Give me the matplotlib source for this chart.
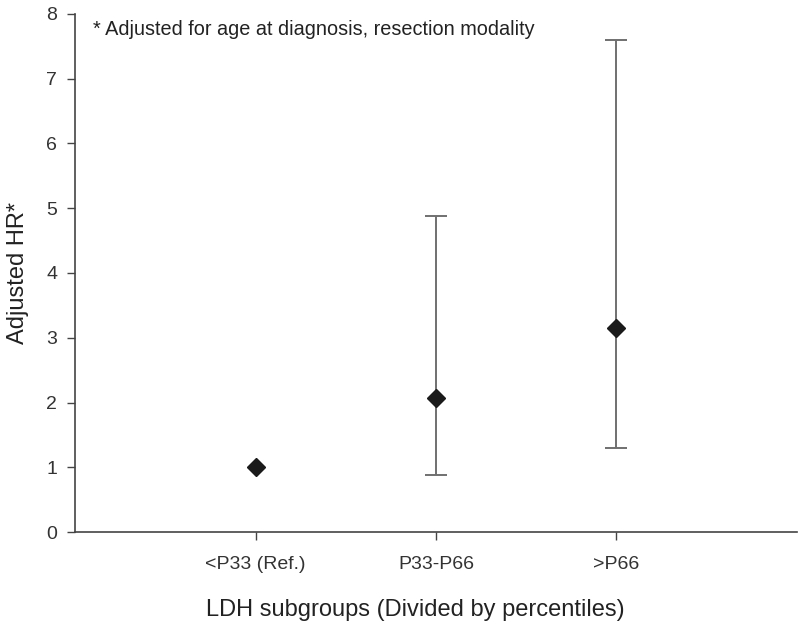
import matplotlib
matplotlib.use("Agg")
import matplotlib.pyplot as plt
import numpy as np

plt.rcParams["font.family"] = ["Liberation Sans", "DejaVu Sans"]

categories = ["<P33 (Ref.)", "P33-P66", ">P66"]
hr = [1.0, 2.07, 3.15]
ci_low = [1.0, 0.88, 1.30]
ci_high = [1.0, 4.88, 7.60]
yticks = [0, 1, 2, 3, 4, 5, 6, 7, 8]

fig = plt.figure(figsize=(8.0, 6.26), dpi=100)
ax = fig.add_axes([0.094, 0.150, 0.902, 0.828])

x = np.arange(1, len(categories) + 1)
hr_a = np.array(hr)
lo = hr_a - np.array(ci_low)
hi = np.array(ci_high) - hr_a
for xi, h, l, u in zip(x, hr_a, lo, hi):
    if l > 0 or u > 0:
        ax.errorbar([xi], [h], yerr=[[l], [u]], fmt="none", ecolor="#707070",
                    elinewidth=1.4, capsize=8, capthick=1.4, zorder=2)
ax.plot(x, hr_a, linestyle="none", marker="D", markersize=9, color="#1a1a1a", zorder=3)

ax.set_xlim(0, 4)
ax.set_ylim(0, 8)
ax.set_xticks(x)
ax.set_xticklabels(categories)
ax.set_yticks(yticks)
for s in ["top", "right"]:
    ax.spines[s].set_visible(False)
for s in ["left", "bottom"]:
    ax.spines[s].set_color("#444444")
    ax.spines[s].set_linewidth(1.2)
ax.tick_params(axis="both", direction="out", length=6, width=1.0, color="#444444",
               labelsize=14, labelcolor="#333333")
ax.tick_params(axis="x", pad=11)
ax.tick_params(axis="y", pad=7)
ax.set_ylabel("Adjusted HR*", fontsize=17, color="#222222", labelpad=12)
ax.set_xlabel("LDH subgroups (Divided by percentiles)", fontsize=17, color="#222222",
              labelpad=20)
ax.xaxis.set_label_coords(0.471, -0.13)
ax.text(0.1, 7.75, "* Adjusted for age at diagnosis, resection modality", fontsize=14.3,
        color="#222222", va="center", ha="left")

fig.savefig("out.png", dpi=100)
